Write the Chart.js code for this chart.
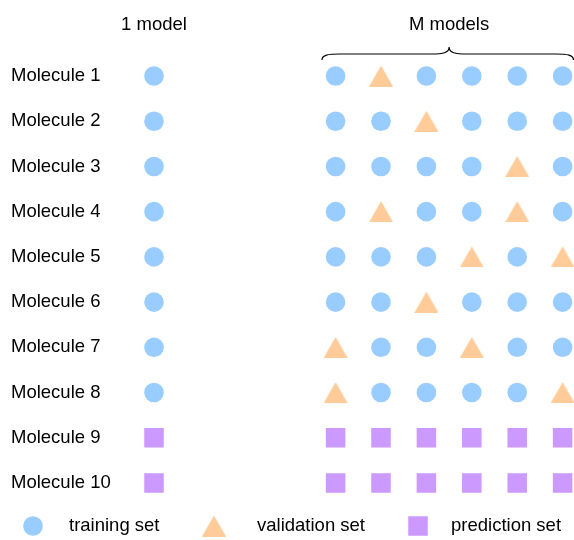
<!DOCTYPE html>
<html><head><meta charset="utf-8">
<script src="https://cdn.jsdelivr.net/npm/chart.js@4/dist/chart.umd.min.js"></script>
<style>html,body{margin:0;padding:0;background:#fff;}#wrap{width:574px;height:540px;}</style>
</head><body><div id="wrap"><canvas id="c" width="574" height="540"></canvas></div>
<script>
// ---- data ----
const molecules = ['Molecule 1','Molecule 2','Molecule 3','Molecule 4','Molecule 5',
                   'Molecule 6','Molecule 7','Molecule 8','Molecule 9','Molecule 10'];
const columnTitles = ['1 model', 'M models'];
const legendLabels = ['training set', 'validation set', 'prediction set'];
// column index of the single model and of the M models
const oneModelColumn = 0;
const mModelColumns = [4, 5, 6, 7, 8, 9];
// role of each molecule: T = training, V = validation, P = prediction
const oneModel = ['T','T','T','T','T','T','T','T','P','P'];
const mModels = [
  ['T','V','T','T','T','T'],
  ['T','T','V','T','T','T'],
  ['T','T','T','T','V','T'],
  ['T','V','T','T','V','T'],
  ['T','T','T','V','T','V'],
  ['T','T','V','T','T','T'],
  ['V','T','T','V','T','T'],
  ['V','T','T','T','T','V'],
  ['P','P','P','P','P','P'],
  ['P','P','P','P','P','P']
];

const COLORS = { T: '#99CCFF', V: '#FFCC99', P: '#CC99FF' };
const FONT_FAMILY = '"Liberation Sans", Arial, sans-serif';
const FONT_SIZE = 18.5;
const FONT = FONT_SIZE + 'px ' + FONT_FAMILY;

function triangleImage(w, h, color) {
  const c = document.createElement('canvas');
  c.width = w; c.height = h;
  const g = c.getContext('2d');
  g.fillStyle = color;
  g.beginPath(); g.moveTo(w / 2, 0); g.lineTo(w, h); g.lineTo(0, h); g.closePath(); g.fill();
  return c;
}
const triImg = triangleImage(24, 21, COLORS.V);

const pts = { T: [], V: [], P: [] };
molecules.forEach((m, i) => {
  pts[oneModel[i]].push({ x: oneModelColumn, y: i + 1 });
  mModels[i].forEach((r, j) => pts[r].push({ x: mModelColumns[j], y: i + 1 }));
});

const decor = {
  id: 'decor',
  afterDraw(chart) {
    const ctx = chart.ctx, xs = chart.scales.x;
    ctx.save();
    ctx.fillStyle = '#000';
    ctx.font = FONT;
    ctx.textAlign = 'center';
    ctx.textBaseline = 'middle';
    const first = mModelColumns[0], last = mModelColumns[mModelColumns.length - 1];
    const mid = xs.getPixelForValue((first + last) / 2);
    ctx.fillText(columnTitles[0], xs.getPixelForValue(oneModelColumn), 25);
    ctx.fillText(columnTitles[1], mid, 25);
    // brace
    const L = xs.getPixelForValue(first - 0.3), R = xs.getPixelForValue(last + 0.24);
    const yEnd = 60, yBar = 54, yTip = 47;
    ctx.strokeStyle = '#000'; ctx.lineWidth = 1.2;
    ctx.beginPath();
    ctx.moveTo(L, yEnd);
    ctx.bezierCurveTo(L, yBar + 1, L + 6, yBar, L + 18, yBar);
    ctx.lineTo(mid - 18, yBar);
    ctx.bezierCurveTo(mid - 6, yBar, mid, yBar - 1, mid, yTip);
    ctx.bezierCurveTo(mid, yBar - 1, mid + 6, yBar, mid + 18, yBar);
    ctx.lineTo(R - 18, yBar);
    ctx.bezierCurveTo(R - 6, yBar, R, yBar + 1, R, yEnd);
    ctx.stroke();
    // legend
    const ly = 526;
    ctx.fillStyle = COLORS.T;
    ctx.beginPath(); ctx.arc(33, ly, 9.8, 0, Math.PI * 2); ctx.fill();
    ctx.drawImage(triImg, 214 - 12, ly - 10.5);
    ctx.fillStyle = COLORS.P;
    ctx.fillRect(418 - 9.75, ly - 9.75, 19.5, 19.5);
    ctx.fillStyle = '#000';
    ctx.textAlign = 'left';
    ctx.fillText(legendLabels[0], 69, ly);
    ctx.fillText(legendLabels[1], 257, ly);
    ctx.fillText(legendLabels[2], 451, ly);
    ctx.restore();
  }
};

new Chart(document.getElementById('c'), {
  type: 'scatter',
  data: {
    datasets: [
      { label: legendLabels[0], data: pts.T, pointStyle: 'circle', pointRadius: 9.8,
        backgroundColor: COLORS.T, borderWidth: 0 },
      { label: legendLabels[1], data: pts.V, pointStyle: triImg, pointRadius: 12,
        backgroundColor: COLORS.V, borderWidth: 0 },
      { label: legendLabels[2], data: pts.P, pointStyle: 'rect', pointRadius: 13.8,
        backgroundColor: COLORS.P, borderWidth: 0 }
    ]
  },
  options: {
    responsive: false, animation: false, devicePixelRatio: 1, events: [],
    layout: { autoPadding: false, padding: { left: 11, right: 0, top: 0, bottom: 0 } },
    plugins: { legend: { display: false }, tooltip: { enabled: false } },
    scales: {
      x: { type: 'linear', display: false, min: -0.749, max: 9.251 },
      y: {
        type: 'linear', reverse: true, min: -0.681, max: 11.261,
        grid: { display: false, drawTicks: false }, border: { display: false },
        ticks: { crossAlign: 'far', color: '#000', font: { family: FONT_FAMILY, size: FONT_SIZE },
                 callback: v => molecules[v - 1] || '' },
        afterBuildTicks: ax => { ax.ticks = molecules.map((_, i) => ({ value: i + 1 })); },
        afterFit: ax => { ax.width = 109; ax.paddingTop = 0; ax.paddingBottom = 0; }
      }
    }
  },
  plugins: [decor]
});
</script></body></html>
